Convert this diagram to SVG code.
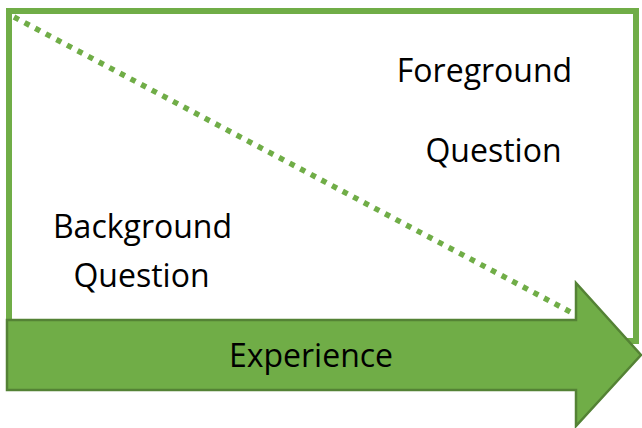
<svg xmlns="http://www.w3.org/2000/svg" width="642" height="428" viewBox="0 0 642 428">
<style>
.lbl{font-family:"Open Sans","Liberation Sans",sans-serif;font-size:32px;fill:#000;text-anchor:middle}
.frame{fill:#fff;stroke:#70AD47;stroke-width:6}
.diag{fill:none;stroke:#70AD47;stroke-width:5.5;stroke-dasharray:5.5 6.5}
.arrow{fill:#70AD47;stroke:#548235;stroke-width:2.5}
</style>
<rect width="642" height="428" fill="#fff"/>
<g id="frame"><rect class="frame" x="9" y="11" width="627" height="330"/></g>
<g id="connectors"><line class="diag" x1="14" y1="17" x2="578" y2="316"/></g>
<g id="experience">
<polygon class="arrow" points="7,320 576,320 576,283 641,355 576,426 576,390 7,390"/>
<text class="lbl" x="311" y="367">Experience</text>
</g>
<g id="foreground">
<text class="lbl" x="484.5" y="82">Foreground</text>
<text class="lbl" x="493.5" y="162">Question</text>
</g>
<g id="background">
<text class="lbl" x="142.5" y="238">Background</text>
<text class="lbl" x="141.5" y="287">Question</text>
</g>
</svg>
